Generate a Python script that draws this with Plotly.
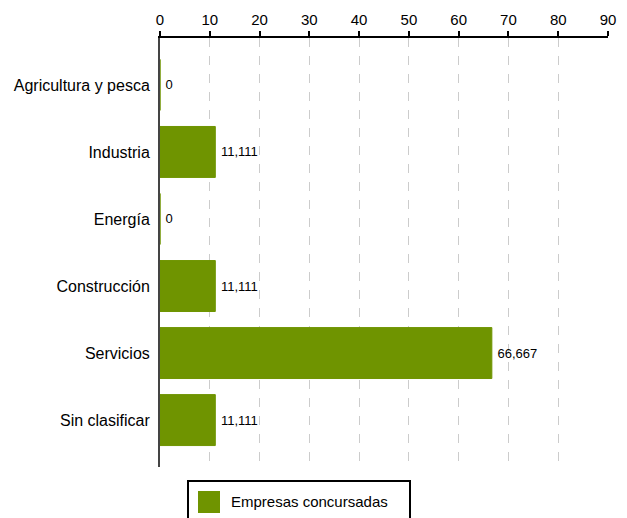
import plotly.graph_objects as go

categories = ["Agricultura y pesca", "Industria", "Energía", "Construcción", "Servicios", "Sin clasificar"]
values = [0, 11.111, 0, 11.111, 66.667, 11.111]
series_name = "Empresas concursadas"
tick_vals = [0, 10, 20, 30, 40, 50, 60, 70, 80, 90]

GREEN = "#6f9400"
FONT = "Liberation Sans, Arial"

def fmt(v):
    s = f"{v:.3f}".rstrip("0").rstrip(".")
    return s.replace(".", ",")

texts = ["\u2009" + fmt(v) for v in values]

fig = go.Figure()
fig.add_trace(go.Bar(
    x=values, y=categories, orientation="h",
    marker=dict(color=GREEN, line=dict(color=GREEN, width=1)),
    width=0.76,
    text=texts, textposition="outside",
    textfont=dict(family=FONT, size=13, color="#000"),
    cliponaxis=False,
    showlegend=False,
    hoverinfo="skip",
    name=series_name,
))

L, R, T, B = 160, 19, 38, 51
W, H = 627, 518
pw, ph = W - L - R, H - T - B

def px(x):
    return (x - L) / pw

def py(y):
    return (H - B - y) / ph

shapes = [
    dict(type="rect", xref="paper", yref="paper", x0=px(188), x1=px(410), y0=py(530), y1=py(481),
         line=dict(color="#000", width=2), fillcolor="rgba(0,0,0,0)"),
    dict(type="rect", xref="paper", yref="paper", x0=px(198), x1=px(220), y0=py(513), y1=py(491),
         line=dict(width=0), fillcolor=GREEN),
]
annotations = [
    dict(xref="paper", yref="paper", x=px(229), y=py(501), xanchor="left", yanchor="middle",
         text=series_name, showarrow=False,
         font=dict(family=FONT, size=15, color="#000")),
]

fig.update_layout(
    width=W, height=H,
    margin=dict(l=L, r=R, t=T, b=B, pad=0),
    plot_bgcolor="white", paper_bgcolor="white",
    font=dict(family=FONT, size=14, color="#000"),
    xaxis=dict(
        side="top", range=[0, 90], tickvals=tick_vals,
        showgrid=True, gridcolor="#cccccc", griddash="dash", gridwidth=1,
        showline=True, linecolor="#000", linewidth=2,
        ticks="outside", ticklen=5, tickwidth=2, tickcolor="#000",
        zeroline=False,
        tickfont=dict(size=15),
    ),
    yaxis=dict(
        categoryorder="array", categoryarray=categories,
        range=[5.7, -0.7],
        showgrid=False, showline=True, linecolor="#444", linewidth=2,
        ticks="outside", ticklen=5, tickcolor="rgba(0,0,0,0)",
        tickfont=dict(size=16),
    ),
    shapes=shapes, annotations=annotations,
    showlegend=False,
    bargap=0.24,
)

fig.write_html("out.html", config={"displayModeBar": False},
               post_script="document.body.style.margin='0';document.body.style.overflow='hidden';")
